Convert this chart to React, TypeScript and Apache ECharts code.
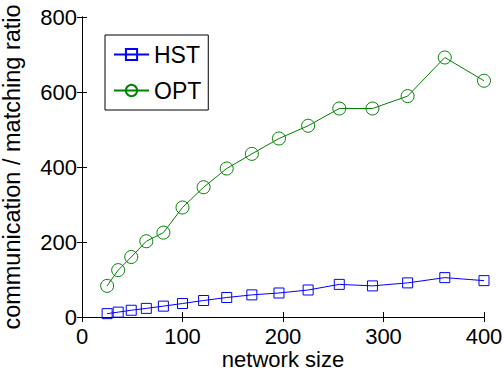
import React, { useEffect, useRef } from "react";
import * as echarts from "echarts";

const networkSizes = [25, 36, 49, 64, 81, 100, 121, 144, 169, 196, 225, 256, 289, 324, 361, 400];
const hstValues = [9, 13, 18, 23, 29, 36, 44, 52, 59, 64, 72, 87, 83, 91, 105, 97];
const optValues = [83, 125, 160, 202, 225, 292, 346, 396, 435, 476, 510, 556, 556, 589, 692, 630];
const seriesNames = ["HST", "OPT"];
const xAxisTitle = "network size";
const yAxisTitle = "communication / matching ratio";

const FONT = "Liberation Sans, Arial, Helvetica, sans-serif";

export default function App() {
  const ref = useRef<HTMLDivElement>(null);
  useEffect(() => {
    if (!ref.current) return;
    const chart = echarts.init(ref.current, undefined, { renderer: "svg" });
    const mk = (vals: number[]) => networkSizes.map((x, i) => [x, vals[i]]);
    const axisCommon = {
      type: "value" as const,
      axisLine: { show: true, lineStyle: { color: "#000", width: 1 } },
      axisTick: { show: true, inside: true, length: 5, lineStyle: { color: "#000", width: 1 } },
      splitLine: { show: false },
    };
    chart.setOption({
      animation: false,
      backgroundColor: "#fff",
      textStyle: { fontFamily: FONT },
      grid: { left: 82, right: 20, top: 17, bottom: 56, containLabel: false, outerBoundsMode: "none" },
      legend: {
        left: 105,
        top: 35,
        orient: "vertical",
        data: seriesNames,
        borderColor: "#000",
        borderWidth: 1,
        backgroundColor: "#fff",
        padding: [8, 7, 8, 8],
        itemGap: 13,
        itemWidth: 35,
        itemHeight: 14,
        textStyle: { fontFamily: FONT, fontSize: 23, color: "#000" },
      },
      xAxis: [
        {
          ...axisCommon,
          min: 0,
          max: 400,
          interval: 100,
          position: "bottom",
          name: xAxisTitle,
          nameLocation: "middle",
          nameGap: 31,
          nameMoveOverlap: false,
          nameTextStyle: { fontFamily: FONT, fontSize: 22, lineHeight: 22, color: "#000" },
          axisLabel: { fontFamily: FONT, fontSize: 22, color: "#000", margin: 8 },
        },
        {
          ...axisCommon,
          min: 0,
          max: 400,
          interval: 100,
          position: "top",
          axisLabel: { show: false },
        },
      ],
      yAxis: [
        {
          ...axisCommon,
          min: 0,
          max: 800,
          interval: 200,
          position: "left",
          name: yAxisTitle,
          nameLocation: "middle",
          nameGap: 58,
          nameMoveOverlap: false,
          nameTextStyle: { fontFamily: FONT, fontSize: 23.5, color: "#000" },
          axisLabel: { fontFamily: FONT, fontSize: 22, color: "#000", margin: 5 },
        },
        {
          ...axisCommon,
          min: 0,
          max: 800,
          interval: 200,
          position: "right",
          axisLabel: { show: false },
        },
      ],
      series: [
        {
          name: seriesNames[0],
          type: "line",
          data: mk(hstValues),
          symbol: "rect",
          symbolSize: 10,
          lineStyle: { color: "#0000ff", width: 1 },
          itemStyle: { color: "rgba(255,255,255,0)", borderColor: "#0000ff", borderWidth: 1 },
        },
        {
          name: seriesNames[1],
          type: "line",
          data: mk(optValues),
          symbol: "circle",
          symbolSize: 13,
          lineStyle: { color: "#008000", width: 1 },
          itemStyle: { color: "rgba(255,255,255,0)", borderColor: "#008000", borderWidth: 1 },
        },
      ],
    });
    return () => chart.dispose();
  }, []);
  return <div ref={ref} style={{ width: 504, height: 373, position: "absolute", left: 0, top: 0 }} />;
}
